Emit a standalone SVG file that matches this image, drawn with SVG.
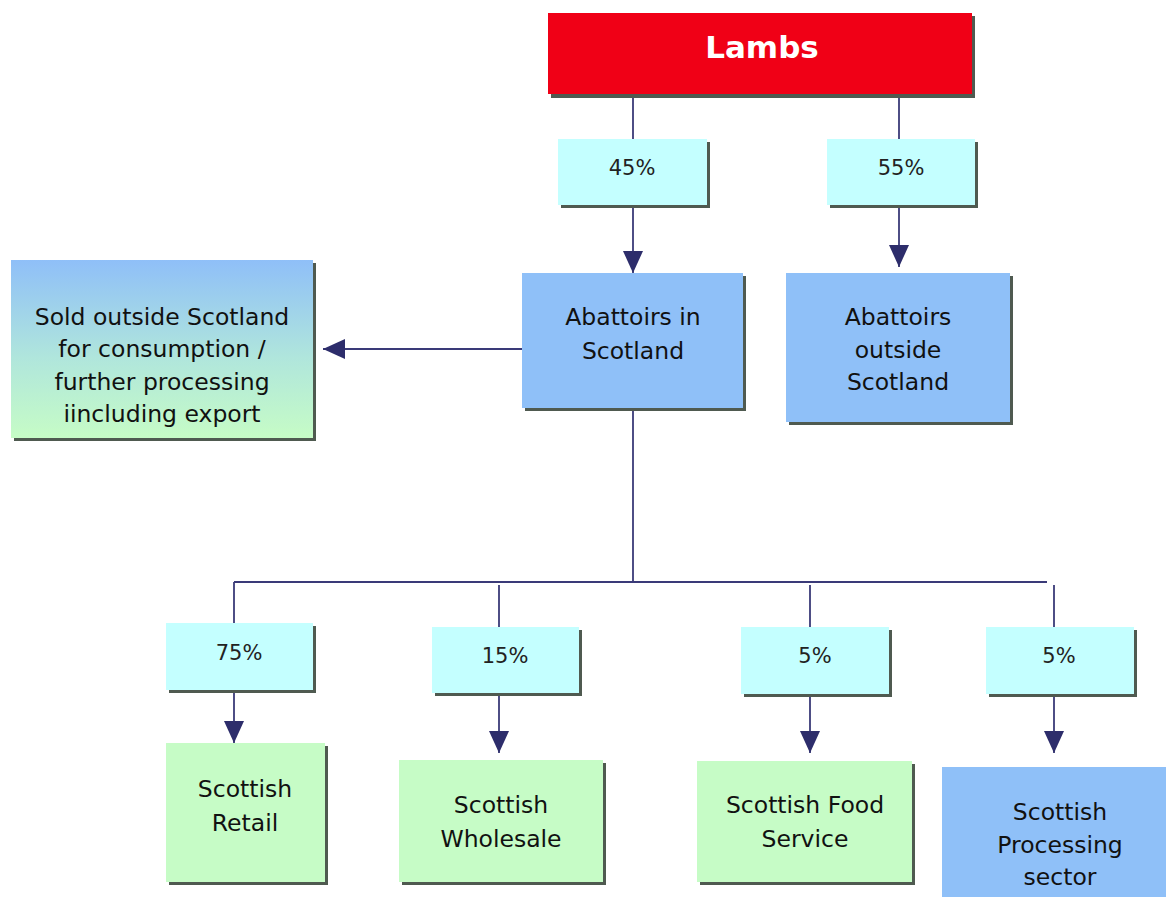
<svg xmlns="http://www.w3.org/2000/svg" width="1166" height="897" viewBox="0 0 1166 897">
<style>
.t{font-family:"DejaVu Sans",Verdana,sans-serif;font-size:23.5px;fill:#111;text-anchor:middle}
.p{font-family:"DejaVu Sans",Verdana,sans-serif;font-size:21px;fill:#222;text-anchor:middle}
.sh{fill:#4f5a50}
.blue{fill:#8fc0f8}
.green{fill:#c6fcc6}
.cyan{fill:#c4ffff}
.ln{stroke:#3a3a78;stroke-width:1.8;fill:none}
</style>
<defs>
<marker id="ah" markerUnits="userSpaceOnUse" viewBox="0 0 22 20" markerWidth="22" markerHeight="20" refX="22" refY="10" orient="auto">
<path d="M0,0 L22,10 L0,20 z" fill="#2d2d6b"/>
</marker>
<linearGradient id="bg" x1="0" y1="0" x2="0" y2="1">
<stop offset="0" stop-color="#8fbff8"/>
<stop offset="0.55" stop-color="#b0e6dc"/>
<stop offset="1" stop-color="#c6fcc6"/>
</linearGradient>
</defs>
<g id="connectors">
<line class="ln" x1="633" y1="96" x2="633" y2="139"/>
<line class="ln" x1="633" y1="205" x2="633" y2="273" marker-end="url(#ah)"/>
<line class="ln" x1="899" y1="96" x2="899" y2="139"/>
<line class="ln" x1="899" y1="205" x2="899" y2="267" marker-end="url(#ah)"/>
<line class="ln" x1="522" y1="349" x2="323" y2="349" marker-end="url(#ah)"/>
<line class="ln" x1="633" y1="408" x2="633" y2="582"/>
<line class="ln" x1="234" y1="582" x2="1047" y2="582"/>
<line class="ln" x1="234" y1="582" x2="234" y2="623"/>
<line class="ln" x1="499" y1="585" x2="499" y2="627"/>
<line class="ln" x1="810" y1="585" x2="810" y2="627"/>
<line class="ln" x1="1054" y1="585" x2="1054" y2="627"/>
<line class="ln" x1="234" y1="690" x2="234" y2="743" marker-end="url(#ah)"/>
<line class="ln" x1="499" y1="693" x2="499" y2="753" marker-end="url(#ah)"/>
<line class="ln" x1="810" y1="694" x2="810" y2="753" marker-end="url(#ah)"/>
<line class="ln" x1="1054" y1="694" x2="1054" y2="753" marker-end="url(#ah)"/>
</g>
<g id="lambs">
<rect class="sh" x="551" y="16" width="424" height="82" fill="#6a3030"/>
<rect x="548" y="13" width="424" height="81" fill="#f00016"/>
<text x="762" y="58" font-family="'DejaVu Sans',Verdana,sans-serif" font-size="31" font-weight="bold" fill="#fff" text-anchor="middle">Lambs</text>
</g>
<g id="p45">
<rect class="sh" x="561" y="142" width="149" height="66"/>
<rect class="cyan" x="558" y="139" width="149" height="66"/>
<text class="p" x="632" y="175">45%</text>
</g>
<g id="p55">
<rect class="sh" x="830" y="142" width="148" height="66"/>
<rect class="cyan" x="827" y="139" width="148" height="66"/>
<text class="p" x="901" y="175">55%</text>
</g>
<g id="abattoirs-in">
<rect class="sh" x="525" y="276" width="221" height="135"/>
<rect class="blue" x="522" y="273" width="221" height="135"/>
<text class="t" x="633" y="325">Abattoirs in</text>
<text class="t" x="633" y="359">Scotland</text>
</g>
<g id="abattoirs-outside">
<rect class="sh" x="789" y="276" width="224" height="149"/>
<rect class="blue" x="786" y="273" width="224" height="149"/>
<text class="t" x="898" y="325">Abattoirs</text>
<text class="t" x="898" y="358">outside</text>
<text class="t" x="898" y="390">Scotland</text>
</g>
<g id="sold-outside">
<rect class="sh" x="14" y="263" width="302" height="178"/>
<rect x="11" y="260" width="302" height="178" fill="url(#bg)"/>
<text class="t" x="162" y="325">Sold outside Scotland</text>
<text class="t" x="162" y="357">for consumption /</text>
<text class="t" x="162" y="390">further processing</text>
<text class="t" x="162" y="422">iincluding export</text>
</g>
<g id="p75">
<rect class="sh" x="169" y="626" width="147" height="67"/>
<rect class="cyan" x="166" y="623" width="147" height="67"/>
<text class="p" x="239" y="660">75%</text>
</g>
<g id="p15">
<rect class="sh" x="435" y="630" width="147" height="66"/>
<rect class="cyan" x="432" y="627" width="147" height="66"/>
<text class="p" x="505" y="663">15%</text>
</g>
<g id="p5a">
<rect class="sh" x="744" y="630" width="148" height="67"/>
<rect class="cyan" x="741" y="627" width="148" height="67"/>
<text class="p" x="815" y="663">5%</text>
</g>
<g id="p5b">
<rect class="sh" x="989" y="630" width="148" height="67"/>
<rect class="cyan" x="986" y="627" width="148" height="67"/>
<text class="p" x="1059" y="663">5%</text>
</g>
<g id="retail">
<rect class="sh" x="169" y="746" width="159" height="139"/>
<rect class="green" x="166" y="743" width="159" height="139"/>
<text class="t" x="245" y="797">Scottish</text>
<text class="t" x="245" y="831">Retail</text>
</g>
<g id="wholesale">
<rect class="sh" x="402" y="763" width="204" height="122"/>
<rect class="green" x="399" y="760" width="204" height="122"/>
<text class="t" x="501" y="813">Scottish</text>
<text class="t" x="501" y="847">Wholesale</text>
</g>
<g id="food-service">
<rect class="sh" x="700" y="764" width="215" height="121"/>
<rect class="green" x="697" y="761" width="215" height="121"/>
<text class="t" x="805" y="813">Scottish Food</text>
<text class="t" x="805" y="847">Service</text>
</g>
<g id="processing">
<rect class="blue" x="942" y="767" width="224" height="130"/>
<text class="t" x="1060" y="820">Scottish</text>
<text class="t" x="1060" y="853">Processing</text>
<text class="t" x="1060" y="885">sector</text>
</g>
</svg>
